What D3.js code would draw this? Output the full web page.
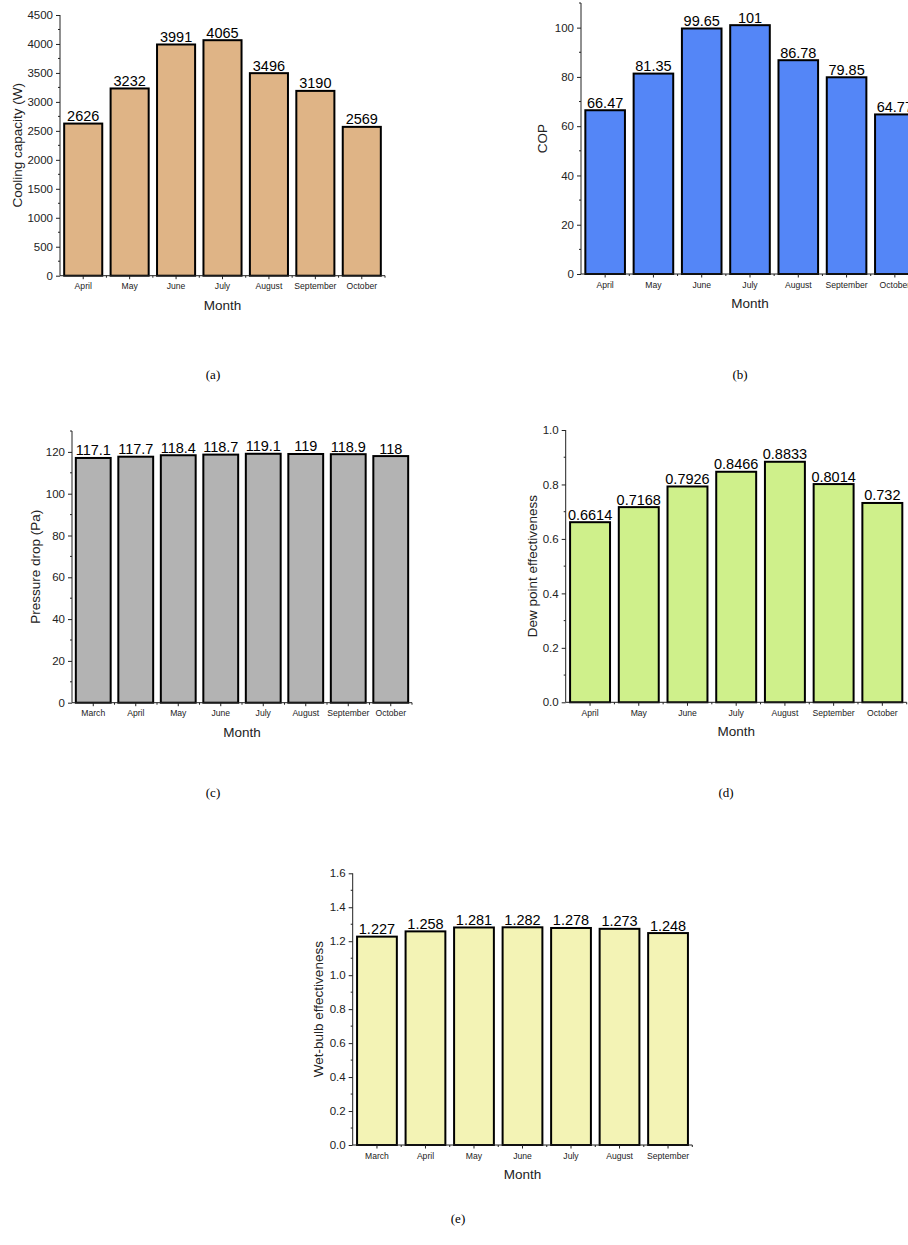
<!DOCTYPE html>
<html><head><meta charset="utf-8">
<script src="https://cdn.jsdelivr.net/npm/d3@7"></script>
<style>body{margin:0;background:#fff}svg{display:block}</style>
</head><body>
<svg id="c" width="908" height="1245"></svg>
<script>
// ---- data ----
const monthsA = ["April","May","June","July","August","September","October"];
const coolingCapacity = [2626,3232,3991,4065,3496,3190,2569];

const monthsB = ["April","May","June","July","August","September","October"];
const cop = [66.47,81.35,99.65,101,86.78,79.85,64.77];

const monthsC = ["March","April","May","June","July","August","September","October"];
const pressureDrop = [117.1,117.7,118.4,118.7,119.1,119,118.9,118];

const monthsD = ["April","May","June","July","August","September","October"];
const dewPointEff = [0.6614,0.7168,0.7926,0.8466,0.8833,0.8014,0.732];

const monthsE = ["March","April","May","June","July","August","September"];
const wetBulbEff = [1.227,1.258,1.281,1.282,1.278,1.273,1.248];

const ticksA = [0,500,1000,1500,2000,2500,3000,3500,4000,4500];
const ticksB = [0,20,40,60,80,100];
const ticksC = [0,20,40,60,80,100,120];
const ticksD = [0,0.2,0.4,0.6,0.8,1.0];
const ticksE = [0,0.2,0.4,0.6,0.8,1.0,1.2,1.4,1.6];

const svg = d3.select("#c");
const FONT = "Liberation Sans, Arial, sans-serif";

function panel(o){
  const g = svg.append("g");
  const x = d3.scaleBand().domain(o.cats).range([o.left,o.right]).paddingInner(0.18).paddingOuter(0.09);
  const y = d3.scaleLinear().domain(o.domain).range([o.bottom,o.top]);
  // bars
  g.selectAll("rect.bar").data(o.vals).join("rect")
    .attr("x",(d,i)=>x(o.cats[i])).attr("width",x.bandwidth())
    .attr("y",d=>y(d)).attr("height",d=>y(0)-y(d))
    .attr("fill",o.color).attr("stroke","#000").attr("stroke-width",2);
  // value labels
  g.selectAll("text.val").data(o.vals).join("text")
    .attr("x",(d,i)=>x(o.cats[i])+x.bandwidth()/2).attr("y",d=>y(d)-2.5)
    .attr("text-anchor","middle").attr("font-family",FONT).attr("font-size",14.5)
    .attr("fill","#000").text(d=>String(d));
  // y axis
  const ya = d3.axisLeft(y).tickValues(o.ticks).tickSize(4).tickPadding(3).tickFormat(o.fmt||(d=>String(d)));
  const yg = g.append("g").attr("transform",`translate(${o.left},0)`).call(ya);
  yg.select(".domain").attr("stroke","#222").attr("d",`M0,${o.bottom}V${o.top}`);
  yg.selectAll(".tick line").attr("stroke","#222");
  yg.selectAll(".tick text").attr("font-family",FONT).attr("font-size",11.5).attr("fill","#222");
  const minors = d3.range(o.domain[0]+o.minor/2*0+o.minor, o.domain[1]+1e-9, o.minor).filter(v=>!o.ticks.some(t=>Math.abs(t-v)<1e-9));
  g.selectAll("line.ymin").data(minors).join("line")
    .attr("x1",o.left-2).attr("x2",o.left).attr("y1",d=>y(d)).attr("y2",d=>y(d)).attr("stroke","#222");
  // x axis
  const xa = d3.axisBottom(x).tickSize(3.5).tickPadding(4);
  const xg = g.append("g").attr("transform",`translate(0,${o.bottom})`).call(xa);
  xg.select(".domain").attr("stroke","#222").attr("d",`M${o.left},0H${o.right}`);
  xg.selectAll(".tick line").attr("stroke","#222");
  xg.selectAll(".tick text").attr("font-family",FONT).attr("font-size",8.6).attr("fill","#222");
  const bounds = d3.range(1,o.cats.length).map(i=>x.range()[0]+i*x.step());
  bounds.push(o.right);
  g.selectAll("line.xmin").data(bounds).join("line")
    .attr("x1",d=>d).attr("x2",d=>d).attr("y1",o.bottom).attr("y2",o.bottom+2).attr("stroke","#222");
  // axis titles
  g.append("text").attr("x",(o.left+o.right)/2).attr("y",o.bottom+34)
    .attr("text-anchor","middle").attr("font-family",FONT).attr("font-size",13.5).attr("fill","#222").text("Month");
  g.append("text").attr("transform",`translate(${o.ylx},${(o.top+o.bottom)/2}) rotate(-90)`)
    .attr("text-anchor","middle").attr("dy","0.35em").attr("font-family",FONT).attr("font-size",13.5).attr("fill","#222").text(o.ylabel);
  // caption
  svg.append("text").attr("x",o.capX).attr("y",o.capY).attr("text-anchor","middle")
    .attr("font-family","Liberation Serif, Times New Roman, serif").attr("font-size",13).attr("fill","#000").text(o.cap);
}

panel({cats:monthsA, vals:coolingCapacity, color:"#DFB486", left:60, right:385, bottom:275.7, top:15,
  domain:[0,4500], ticks:ticksA, minor:250, ylabel:"Cooling capacity (W)", ylx:17, cap:"(a)", capX:213, capY:379});
panel({cats:monthsB, vals:cop, color:"#5486F7", left:581, right:919, bottom:274, top:3,
  domain:[0,110], ticks:ticksB, minor:10, ylabel:"COP", ylx:542, cap:"(b)", capX:740, capY:379});
panel({cats:monthsC, vals:pressureDrop, color:"#B3B3B3", left:72, right:412, bottom:702.7, top:431,
  domain:[0,130], ticks:ticksC, minor:10, ylabel:"Pressure drop (Pa)", ylx:35, cap:"(c)", capX:213, capY:797});
panel({cats:monthsD, vals:dewPointEff, color:"#CFF08B", left:565.7, right:906.7, bottom:702.3, top:430,
  domain:[0,1], ticks:ticksD, minor:0.1, fmt:d3.format(".1f"), ylabel:"Dew point effectiveness", ylx:532, cap:"(d)", capX:726, capY:797});
panel({cats:monthsE, vals:wetBulbEff, color:"#F3F3B5", left:352.7, right:692.3, bottom:1145, top:873.3,
  domain:[0,1.6], ticks:ticksE, minor:0.1, fmt:d3.format(".1f"), ylabel:"Wet-bulb effectiveness", ylx:318, cap:"(e)", capX:458, capY:1223});
</script>
</body></html>
